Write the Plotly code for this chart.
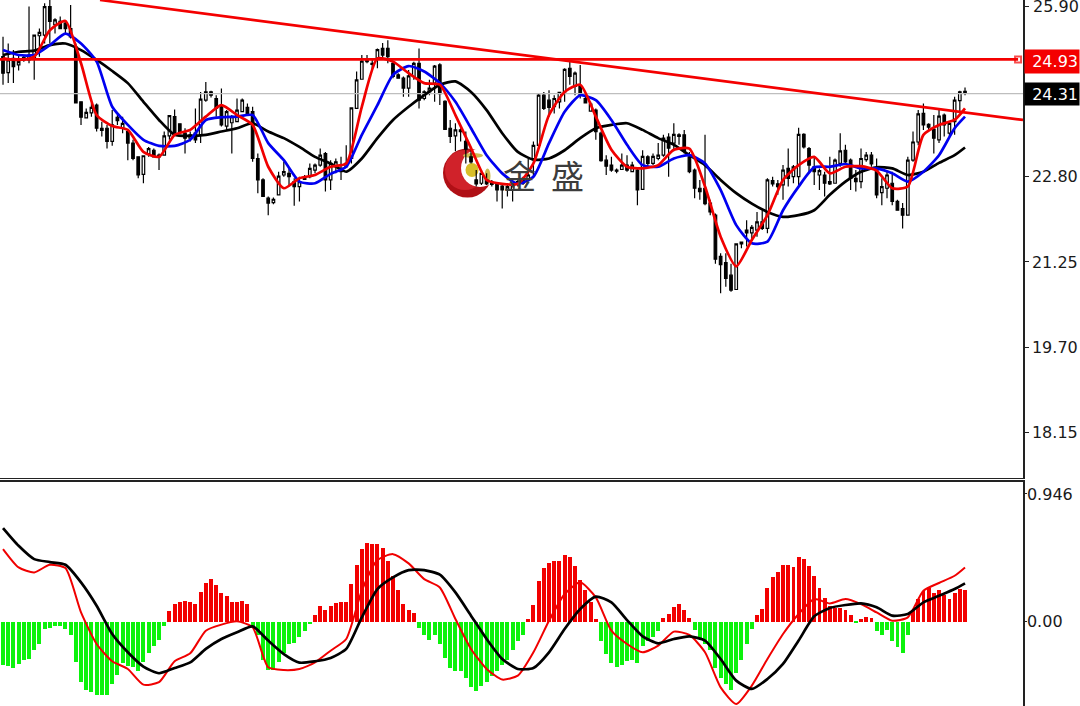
import plotly.graph_objects as go

# ---------- candles ----------
opens = [24.98,24.69,24.95,24.83,24.97,24.92,24.95,25.36,25.37,25.89,
25.56,25.62,25.59,25.49,25.16,24.16,23.87,23.96,24.10,23.68,
23.68,23.44,23.88,23.68,23.62,23.41,23.16,22.84,23.22,23.28,
23.19,23.19,23.54,23.89,23.76,23.59,23.50,23.59,23.56,24.19,
24.34,24.22,24.07,23.72,23.78,23.80,23.98,24.06,23.98,23.13,
22.74,22.41,22.33,22.47,22.83,22.86,22.71,22.62,22.75,22.80,
22.92,23.01,23.22,22.74,22.98,22.95,22.98,23.13,24.04,24.57,
24.89,24.86,24.95,25.13,25.13,24.86,24.65,24.59,24.41,24.62,
24.86,24.22,24.34,24.50,24.83,24.17,23.68,23.54,23.65,23.44,
23.16,22.74,22.68,22.74,22.70,22.67,22.63,22.57,22.56,22.71,
22.77,22.74,23.13,23.37,24.28,24.19,24.07,24.16,24.34,24.77,
24.44,24.44,24.22,23.99,24.01,23.59,23.10,23.01,22.92,22.93,
23.01,22.89,22.92,22.57,23.16,23.04,23.13,23.19,23.52,23.41,
23.56,23.56,23.16,22.92,22.59,22.59,22.32,22.10,21.35,21.24,
21.01,20.75,21.58,21.83,21.78,21.83,21.98,21.86,22.73,22.67,
22.65,22.95,22.80,22.80,23.57,23.31,22.98,22.83,22.83,22.71,
22.68,23.04,23.28,23.10,22.77,22.71,23.11,23.19,22.97,22.51,
22.59,22.68,22.35,22.22,22.10,23.10,23.43,23.95,23.75,23.66,
23.47,23.92,23.59,23.80,24.18,24.33]
closes = [24.68,24.92,24.80,24.89,24.92,25.01,25.37,25.42,25.89,25.62,
25.65,25.49,25.49,25.34,24.14,23.88,23.97,24.06,23.68,23.64,
23.44,23.74,23.82,23.77,23.41,23.13,22.83,23.18,23.31,23.16,
23.16,23.54,23.91,23.59,23.62,23.50,23.56,23.47,24.21,24.34,
24.28,24.04,23.74,23.98,23.89,24.01,24.19,23.95,23.13,22.74,
22.44,22.32,22.39,22.81,22.89,22.80,22.62,22.71,22.79,22.95,
23.01,23.19,22.74,23.04,23.07,22.89,23.04,24.05,24.56,24.90,
24.93,24.84,25.11,25.01,24.98,24.62,24.59,24.41,24.63,24.86,
24.19,24.34,24.41,24.81,24.31,23.66,23.53,23.65,23.62,23.30,
23.07,22.67,22.86,22.67,22.66,22.56,22.56,22.62,22.65,22.66,
22.68,22.83,23.37,24.28,24.04,24.06,24.22,24.33,24.75,24.62,
24.68,24.28,24.14,24.12,23.62,23.09,22.99,22.92,22.90,23.01,
22.92,23.01,22.56,23.17,23.04,23.17,23.19,23.50,23.32,23.57,
23.53,23.26,22.89,22.59,22.53,22.31,22.16,21.30,21.20,20.95,
20.74,21.58,21.61,21.78,21.88,21.98,21.86,22.74,22.67,22.62,
22.92,22.77,22.98,23.57,23.34,23.01,22.89,22.91,22.68,22.67,
23.10,23.27,23.07,22.77,22.71,23.13,23.19,23.03,22.47,22.62,
22.83,22.35,22.19,22.10,23.10,23.43,23.94,23.74,23.70,23.50,
23.90,23.74,23.77,24.19,24.34,24.35]
highs = [25.34,25.22,25.10,25.01,25.01,25.89,25.37,25.49,25.95,26.05,
25.68,25.71,25.62,25.92,25.22,24.16,24.04,24.13,24.13,23.80,
23.74,24.01,23.92,23.89,23.65,23.47,23.16,23.19,23.34,23.31,
23.22,23.62,23.92,24.02,23.77,23.68,23.62,24.04,24.34,24.52,
24.36,24.28,24.40,24.01,23.92,24.22,24.22,24.13,24.07,23.22,
22.77,22.44,22.42,22.89,23.07,22.95,22.77,22.80,22.83,23.04,
23.04,23.31,23.25,23.10,23.13,23.16,23.37,24.06,24.71,25.01,
25.01,24.95,25.13,25.23,25.28,24.89,24.68,24.62,24.74,24.89,
25.13,24.37,24.56,24.83,24.86,24.19,23.83,23.77,23.68,23.62,
23.28,22.92,22.92,22.86,22.74,22.68,22.65,22.68,22.68,22.74,
22.80,23.13,23.44,24.30,24.34,24.37,24.28,24.34,24.77,24.95,
24.71,24.83,24.28,24.16,24.04,23.62,23.19,23.16,22.95,23.22,
23.19,23.07,22.95,23.28,23.19,23.22,23.41,23.56,23.59,23.77,
23.59,23.65,23.25,22.95,22.74,23.56,22.38,22.13,21.41,21.41,
21.22,21.59,21.62,22.01,21.92,22.16,22.19,22.77,22.80,22.74,
23.01,23.31,23.01,23.69,23.59,23.34,23.16,22.95,22.89,23.16,
23.13,23.59,23.38,23.13,22.92,23.31,23.25,23.25,23.13,22.77,
22.89,22.89,22.38,22.32,23.16,23.62,24.01,24.13,23.77,23.92,
24.01,23.95,23.80,24.25,24.36,24.42]
lows = [24.47,24.50,24.50,24.73,24.89,24.86,24.56,24.98,25.22,25.22,
25.40,25.49,25.40,25.31,24.13,23.74,23.86,23.89,23.62,23.53,
23.31,23.36,23.74,23.59,23.10,23.10,22.77,22.68,23.16,23.16,
22.92,23.19,23.47,23.56,23.59,23.22,23.44,23.41,23.41,24.16,
24.24,23.89,23.71,23.65,23.22,23.80,23.98,23.92,23.07,22.50,
22.44,22.10,22.30,22.47,22.80,22.62,22.27,22.35,22.74,22.77,
22.86,22.98,22.53,22.56,22.86,22.74,22.98,23.04,24.04,24.56,
24.86,24.74,24.77,24.92,24.86,24.59,24.59,24.25,24.25,24.56,
24.04,24.19,24.28,24.16,24.10,23.65,23.41,23.26,23.44,23.04,
23.04,22.62,22.65,22.65,22.62,22.35,22.22,22.44,22.35,22.62,
22.65,22.71,22.80,23.36,24.01,23.89,23.95,24.04,24.16,24.47,
24.28,24.22,24.13,23.98,23.47,23.07,22.83,22.89,22.86,22.92,
22.89,22.89,22.28,22.56,22.98,23.01,23.10,23.16,22.80,23.26,
23.38,23.22,22.86,22.41,22.38,22.28,22.10,21.22,20.68,20.80,
20.71,20.74,21.50,21.53,21.65,21.71,21.83,21.77,22.62,22.47,
22.38,22.62,22.68,22.62,23.31,22.86,22.65,22.56,22.44,22.65,
22.68,22.98,23.04,22.56,22.53,22.59,23.07,22.98,22.41,22.28,
22.41,22.28,22.19,21.86,22.10,23.07,23.37,23.65,23.65,23.22,
23.41,23.53,23.53,23.56,23.98,24.28]
bar_index = list(range(len(opens)))

# ---------- moving averages, read every third bar ----------
line_index = list(range(0, 184, 3)) + [185]
ma_red = [24.95,24.92,24.98,25.46,25.63,24.86,23.92,23.72,23.65,23.25,23.16,23.56,23.65,23.89,24.10,23.92,23.74,22.98,22.59,22.77,22.83,22.98,
23.04,24.07,24.95,24.89,24.68,24.50,24.47,23.92,23.32,22.74,22.67,22.67,23.04,23.92,24.34,24.47,23.89,23.29,22.98,22.95,23.01,23.29,
23.31,22.62,21.71,21.17,21.65,22.10,22.74,23.01,23.16,22.86,22.98,22.99,22.91,22.59,22.62,23.56,23.74,23.83,24.04]
ma_blue = [25.10,25.01,25.01,25.19,25.40,25.22,24.89,24.07,23.74,23.47,23.36,23.36,23.47,23.83,23.88,23.89,23.92,23.41,23.10,22.71,22.68,22.85,
22.98,23.56,24.10,24.65,24.81,24.71,24.50,24.16,23.68,23.19,22.86,22.67,22.80,23.41,23.98,24.28,24.19,23.83,23.38,23.01,22.98,23.13,
23.19,23.04,22.56,21.92,21.59,21.62,22.19,22.62,22.97,22.98,23.03,22.95,22.95,22.86,22.71,22.89,23.19,23.68,23.89]
ma_black = [25.01,25.07,25.09,25.19,25.22,25.10,24.92,24.72,24.50,24.16,23.83,23.56,23.54,23.56,23.62,23.68,23.77,23.62,23.50,23.34,23.16,23.04,
22.89,23.13,23.50,23.83,24.07,24.28,24.47,24.53,24.34,24.01,23.59,23.25,23.11,23.13,23.28,23.50,23.68,23.74,23.77,23.65,23.50,23.38,
23.19,23.01,22.74,22.50,22.31,22.16,22.07,22.10,22.19,22.47,22.71,22.89,22.97,22.95,22.83,22.89,23.05,23.19,23.33]

# ---------- MACD panel ----------
macd_red = [.536,.399,.362,.419,.394,.064,-.171,-.300,-.357,-.474,-.456,-.300,-.241,-.072,-.027,-.002,-.047,-.345,-.365,-.357,-.308,-.221,
-.134,.226,.454,.498,.429,.312,.250,.015,-.208,-.357,-.436,-.407,-.233,.002,.201,.288,.176,-.072,-.171,-.233,-.184,-.079,
-.104,-.233,-.494,-.618,-.481,-.283,-.097,.052,.164,.131,.164,.126,.064,.002,.027,.226,.283,.337,.399]
macd_black = [.692,.560,.461,.439,.419,.288,.114,-.097,-.233,-.340,-.389,-.350,-.308,-.208,-.134,-.084,-.040,-.146,-.246,-.310,-.300,-.275,
-.208,.027,.238,.325,.379,.379,.345,.213,.040,-.134,-.283,-.357,-.350,-.233,-.060,.089,.181,.139,.007,-.114,-.166,-.134,
-.114,-.146,-.283,-.444,-.506,-.432,-.320,-.146,.035,.097,.119,.131,.102,.040,.052,.139,.188,.238,.280]
histogram = [-.327,-.332,-.345,-.315,-.288,-.278,-.213,-.164,-.055,-.047,-.035,-.035,-.055,-.104,-.300,-.454,-.511,-.523,-.548,-.548,-.548,-.464,-.399,-.308,-.332,-.337,-.370,-.300,-.233,-.184,-.134,-.035,
.077,.134,.146,.156,.144,.134,.221,.288,.320,.270,.213,.193,.146,.146,.154,.134,
-.035,-.097,-.283,-.362,-.362,-.300,-.233,-.171,-.159,-.114,-.072,-.017,
.047,.117,.084,.114,.139,.146,.144,
.280,.424,.541,.585,.578,.578,.548,.454,.337,.238,.134,.084,.064,
-.047,-.097,-.134,-.097,-.164,-.270,-.345,-.365,-.365,-.424,-.489,-.518,-.481,-.449,-.407,-.370,-.327,-.283,-.213,-.146,-.097,
.015,.122,.305,.399,.434,.454,.454,.498,.481,.412,.312,.238,.144,.015,
-.146,-.241,-.308,-.337,-.325,-.295,-.288,-.308,-.184,-.146,-.114,-.067,
.025,.057,.107,.134,.084,.025,
-.060,-.122,-.171,-.213,-.345,-.424,-.469,-.511,-.387,-.283,-.164,-.055,
.047,.094,.250,.330,.367,.422,.422,.404,.481,.469,.412,.337,.250,.174,.114,.102,.102,.089,.047,
-.007,.015,.035,.027,
-.067,-.104,-.060,-.146,-.191,-.233,-.104,
.089,.166,.226,.246,.213,.238,.201,.171,.213,.243,.238]
hist_colors = ["#F20000" if v > 0 else "#0CF20C" for v in histogram]

# ---------- levels and axis labels ----------
resistance_level = 24.93
last_price = 24.31
trend_x = [18.65, 196.15]
trend_y = [26.01, 23.83]
level_x = [-0.58, 195.2]
last_x = [-0.58, 196.15]
top_price_tick = 25.90
top_price_label = "25.90"
price_ticks = [25.90, 22.80, 21.25, 19.70, 18.15]
price_labels = ["", "22.80", "21.25", "19.70", "18.15"]
macd_ticks = [0.946, 0.0]
macd_labels = ["0.946", "0.00"]
watermark = ["金", "盛"]

W, H, PLOT_W = 1080, 706, 1023
def px(x): return x / PLOT_W
def py(y): return 1 - y / H

fig = go.Figure()
fig.add_trace(go.Scatter(x=last_x, y=[last_price, last_price], mode="lines",
                         line=dict(color="#BEBEBE", width=1.2), xaxis="x", yaxis="y", hoverinfo="skip"))
fig.add_trace(go.Candlestick(x=bar_index, open=opens, high=highs, low=lows, close=closes,
                             increasing=dict(line=dict(color="#000000", width=1.2), fillcolor="#FFFFFF"),
                             decreasing=dict(line=dict(color="#000000", width=1.2), fillcolor="#000000"),
                             whiskerwidth=0, xaxis="x", yaxis="y"))
for vals, color in ((ma_black, "#000000"), (ma_blue, "#0000F0"), (ma_red, "#F00000")):
    fig.add_trace(go.Scatter(x=line_index, y=vals, mode="lines", xaxis="x", yaxis="y",
                             line=dict(color=color, width=2.7, shape="spline", smoothing=0.6)))
fig.add_trace(go.Scatter(x=trend_x, y=trend_y, mode="lines", xaxis="x", yaxis="y",
                         line=dict(color="#F40000", width=2.7)))
fig.add_trace(go.Scatter(x=level_x, y=[resistance_level, resistance_level], mode="lines+markers",
                         line=dict(color="#F40000", width=2.7), xaxis="x", yaxis="y",
                         marker=dict(symbol="square-open", size=[0, 6], color="#F40000", line=dict(width=2, color="#F40000"))))

fig.add_trace(go.Bar(x=bar_index, y=histogram, marker=dict(color=hist_colors, line=dict(width=0)),
                     width=0.74, xaxis="x2", yaxis="y2"))
fig.add_trace(go.Scatter(x=line_index, y=macd_red, mode="lines", xaxis="x2", yaxis="y2",
                         line=dict(color="#F00000", width=2.0, shape="spline", smoothing=0.6)))
fig.add_trace(go.Scatter(x=line_index, y=macd_black, mode="lines", xaxis="x2", yaxis="y2",
                         line=dict(color="#000000", width=2.7, shape="spline", smoothing=0.6)))

def ellipse(cx, cy, rx, ry, color):
    return dict(type="circle", xref="paper", yref="paper", layer="below",
                x0=px(cx - rx), x1=px(cx + rx), y0=py(cy + ry), y1=py(cy - ry),
                fillcolor=color, line=dict(width=0))

shapes = [ellipse(467.5, 173, 24.5, 24.5, "#B01016"), ellipse(465, 170, 20, 20, "#D0222A"),
          ellipse(480, 168, 19, 19, "#FFFFFF"), ellipse(472, 170, 6.5, 7, "#D8BE28"),
          ellipse(473, 155.5, 10, 2.6, "#CDBB50"), ellipse(487.5, 176, 3, 7.5, "#CDBB50")]

tickfont = dict(family="DejaVu Sans", size=16, color="#1A1A1A")
annotations = [
    dict(text=watermark[0], xref="paper", yref="paper", x=px(519), y=py(175), xanchor="center", yanchor="middle",
         showarrow=False, font=dict(family="Noto Sans CJK SC", size=33, color="#3C3C3C")),
    dict(text=watermark[1], xref="paper", yref="paper", x=px(567), y=py(175), xanchor="center", yanchor="middle",
         showarrow=False, font=dict(family="Noto Sans CJK SC", size=33, color="#3C3C3C")),
    dict(text=f"{resistance_level:.2f}", xref="paper", yref="y", x=px(1024), y=resistance_level, yshift=-2,
         xanchor="left", showarrow=False, bgcolor="#F40000", width=52, height=21, align="right",
         font=dict(family="DejaVu Sans", size=16, color="#FFFFFF")),
    dict(text=f"{last_price:.2f}", xref="paper", yref="y", x=px(1024), y=last_price,
         xanchor="left", showarrow=False, bgcolor="#000000", width=52, height=20, align="right",
         font=dict(family="DejaVu Sans", size=16, color="#FFFFFF")),
    dict(text=top_price_label, xref="paper", yref="y", x=px(1031), y=top_price_tick, xanchor="left",
         yanchor="middle", showarrow=False, font=tickfont),
]

xcommon = dict(range=[-0.58, 196.15], showgrid=False, zeroline=False, showticklabels=False, ticks="",
               showline=True, linecolor="#222222", mirror=False)
fig.update_layout(
    width=W, height=H, margin=dict(l=0, r=W - PLOT_W, t=0, b=0, pad=0, autoexpand=False),
    paper_bgcolor="#FFFFFF", plot_bgcolor="#FFFFFF", showlegend=False, bargap=0,
    xaxis=dict(domain=[0, 1], anchor="y", rangeslider=dict(visible=False), side="bottom", linewidth=1, **xcommon),
    xaxis2=dict(domain=[0, 1], anchor="y2", side="top", linewidth=1.5, **xcommon),
    yaxis=dict(domain=[py(477.5), 1], range=[17.334, 26.01], side="right", anchor="x",
               tickmode="array", tickvals=price_ticks, ticktext=price_labels, ticks="outside", ticklen=4,
               tickcolor="#222222", showgrid=False, zeroline=False, showline=True,
               linecolor="#222222", linewidth=1.5, tickfont=tickfont),
    yaxis2=dict(domain=[0, py(481.5)], range=[-0.633, 1.039], side="right", anchor="x2",
                tickmode="array", tickvals=macd_ticks, ticktext=macd_labels, ticks="outside", ticklen=2,
                ticklabelstandoff=-3, tickcolor="#222222", showgrid=False,
                zeroline=False, showline=True, linecolor="#222222", linewidth=1.5, tickfont=tickfont),
    shapes=shapes, annotations=annotations,
)
fig.write_html("out.html", config=dict(displayModeBar=False),
               post_script="document.body.style.margin='0';")
